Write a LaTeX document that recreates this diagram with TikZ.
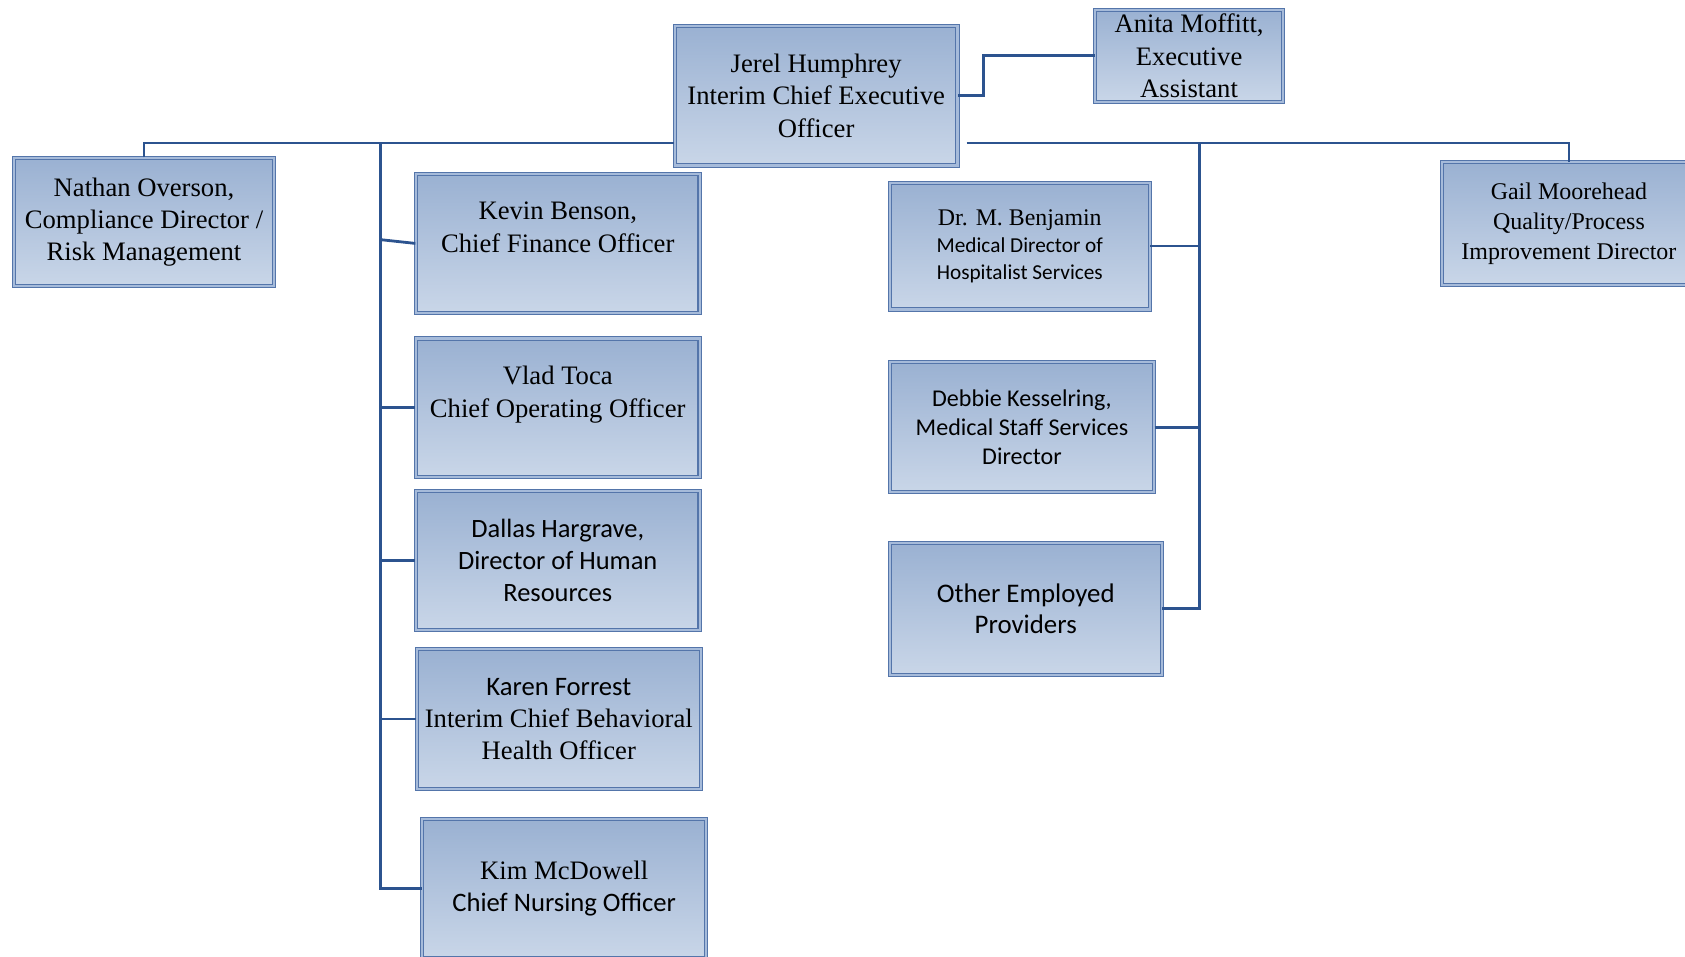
\documentclass[tikz,border=0pt]{standalone}
\usepackage{fontspec}
\setmainfont{Liberation Serif}
\setsansfont{Carlito}
\definecolor{boxtop}{RGB}{154,177,210}
\definecolor{boxbot}{RGB}{201,214,232}
\definecolor{boxline}{RGB}{84,117,170}
\definecolor{boxgap}{RGB}{166,187,218}
\definecolor{linkblue}{RGB}{44,83,143}

\begin{document}
\begin{tikzpicture}[x=0.5pt,y=-0.5pt,
    post/.style={draw=boxline, line width=0.5pt, double=boxgap, double distance=1pt,
      top color=boxtop, bottom color=boxbot, align=center, inner sep=0pt,
      font=\fontsize{12.4}{15}\selectfont},
    link/.style={draw=linkblue, line width=1.3pt}]
  \useasboundingbox (0,0) rectangle (1568,890);

  \node (ceo) [post, minimum width=131.5pt, minimum height=65pt] at (759.5,89)
    {Jerel Humphrey\\Interim Chief Executive\\Officer};
  \node (anita) [post, minimum width=87.5pt, minimum height=43pt] at (1106.5,52)
    {Anita Moffitt,\\Executive\\Assistant};
  \node (nathan) [post, minimum width=121pt, minimum height=59.5pt] at (134,206.5)
    {Nathan Overson,\\Compliance Director /\\Risk Management};
  \node (gail) [post, minimum width=118pt, minimum height=57pt, font=\fontsize{11.15}{14}\selectfont] at (1460,208)
    {Gail Moorehead\\Quality/Process\\Improvement Director};

  \node (kevin) [post, minimum width=132pt, minimum height=64.5pt] at (519,226.5)
    {Kevin Benson,\\Chief Finance Officer\\\mbox{}};
  \node (vlad) [post, minimum width=132pt, minimum height=64.5pt] at (519,379.5)
    {Vlad Toca\\Chief Operating Officer\\\mbox{}};
  \node (dallas) [post, minimum width=132pt, minimum height=64.5pt, font=\sffamily\fontsize{12.3}{15}\selectfont] at (519,521.5)
    {Dallas Hargrave,\\Director of Human\\Resources};
  \node (karen) [post, minimum width=132pt, minimum height=65pt] at (520,669)
    {{\sffamily Karen Forrest}\\Interim Chief Behavioral\\Health Officer};
  \node (kim) [post, minimum width=132pt, minimum height=65pt] at (525,827)
    {Kim McDowell\\{\sffamily Chief Nursing Officer}};

  \node (benj) [post, minimum width=121pt, minimum height=59pt, font=\sffamily\fontsize{9.9}{12.5}\selectfont] at (949,229)
    {{\rmfamily\fontsize{11.1}{12.5}\selectfont Dr. M. Benjamin}\\Medical Director of\\Hospitalist Services};
  \node (debbie) [post, minimum width=123pt, minimum height=60.5pt, font=\sffamily\fontsize{11.2}{13.5}\selectfont] at (951,397.5)
    {Debbie Kesselring,\\Medical Staff Services\\Director};
  \node (other) [post, minimum width=126.5pt, minimum height=61.5pt, font=\sffamily\fontsize{12.5}{14.5}\selectfont] at (954.5,566.5)
    {Other Employed\\Providers};

  \coordinate (ljoin) at (354,133);
  \coordinate (rjoin) at (1116,133);

  \draw[link] (ceo.east) -- +(24,0) |- (anita.west);
  \draw[link] (nathan.north) |- (ceo.west |- ljoin);
  \draw[link] ([xshift=4pt]ceo.east |- rjoin) -| (gail.north);
  \draw[link] (ljoin) |- (kim.west);
  \draw[link] (ljoin |- 0,223) -- (kevin.west);
  \foreach \who in {vlad,dallas,karen}
    \draw[link] (ljoin |- \who.west) -- (\who.west);
  \draw[link] (rjoin) |- (other.east);
  \foreach \who in {benj,debbie}
    \draw[link] (\who.east) -- (rjoin |- \who.east);
\end{tikzpicture}
\end{document}
